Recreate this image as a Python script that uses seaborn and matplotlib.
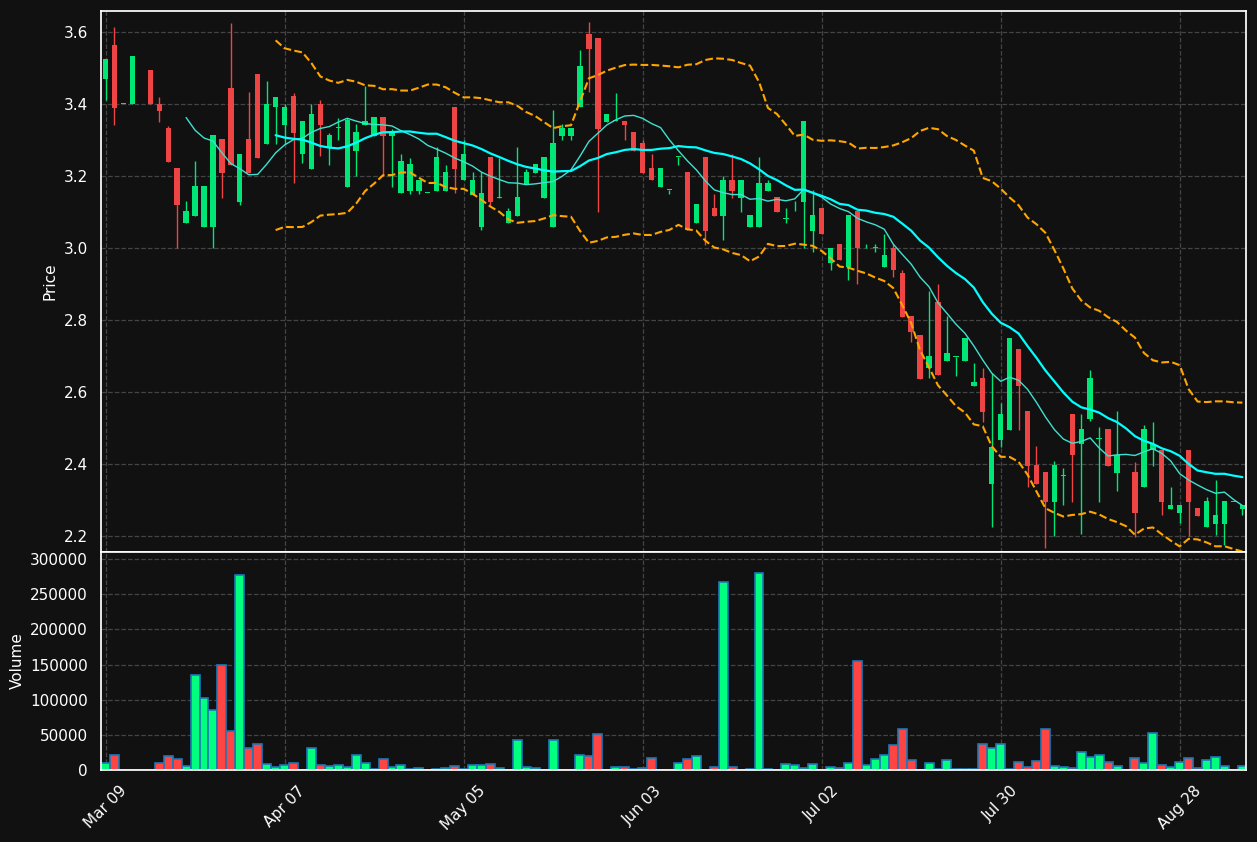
import numpy as np
import pandas as pd
import matplotlib
matplotlib.use("Agg")
import matplotlib.pyplot as plt
import seaborn as sns

tick_labels = ["Mar 09", "Apr 07", "May 05", "Jun 03", "Jul 02", "Jul 30", "Aug 28"]

opens = [3.47,3.564,3.40,3.40,3.532,3.494,3.40,3.334,3.222,3.07,3.09,3.059,3.059,3.303,3.444,3.129,3.303,3.483,3.29,3.39,
 3.34,3.422,3.26,3.22,3.40,3.28,3.333,3.17,3.27,3.34,3.311,3.364,3.311,3.153,3.158,3.158,3.153,3.158,3.158,3.392,
 3.189,3.147,3.058,3.253,3.14,3.07,3.09,3.178,3.208,3.14,3.059,3.312,3.312,3.39,3.594,3.583,3.351,3.353,3.353,3.322,
 3.292,3.222,3.17,3.161,3.253,3.211,3.07,3.253,3.111,3.089,3.19,3.14,3.059,3.059,3.159,3.142,3.081,3.102,3.129,3.048,
 3.111,2.959,3.011,2.948,3.103,2.999,3.0,2.948,3.0,2.931,2.811,2.758,2.667,2.851,2.687,2.698,2.687,2.618,2.639,2.345,
 2.467,2.495,2.719,2.547,2.397,2.378,2.295,2.367,2.539,2.456,2.526,2.47,2.497,2.376,2.358,2.378,2.337,2.439,2.439,2.275,
 2.265,2.439,2.278,2.226,2.234,2.234,2.295,2.275]
highs = [3.525,3.613,3.40,3.533,3.532,3.494,3.42,3.338,3.222,3.13,3.242,3.173,3.314,3.303,3.624,3.261,3.433,3.483,3.464,3.42,
 3.40,3.43,3.353,3.40,3.41,3.32,3.36,3.36,3.344,3.45,3.364,3.364,3.33,3.26,3.25,3.19,3.153,3.28,3.23,3.392,
 3.30,3.21,3.21,3.253,3.25,3.11,3.28,3.22,3.233,3.253,3.383,3.345,3.334,3.55,3.627,3.583,3.372,3.43,3.353,3.322,
 3.30,3.26,3.222,3.161,3.253,3.211,3.122,3.253,3.15,3.20,3.261,3.19,3.092,3.253,3.19,3.142,3.11,3.13,3.353,3.16,
 3.111,3.0,3.011,3.092,3.103,3.01,3.01,3.04,3.01,2.94,2.811,2.758,2.881,2.90,2.81,2.698,2.75,2.68,2.667,2.653,
 2.569,2.75,2.719,2.547,2.45,2.378,2.408,2.389,2.539,2.539,2.66,2.504,2.497,2.547,2.358,2.407,2.508,2.518,2.439,2.337,
 2.286,2.439,2.278,2.31,2.357,2.297,2.295,2.286]
lows = [3.41,3.342,3.40,3.40,3.532,3.40,3.35,3.24,3.0,3.07,3.09,3.059,3.0,3.14,3.231,3.12,3.209,3.251,3.29,3.29,
 3.29,3.18,3.236,3.22,3.254,3.23,3.30,3.17,3.20,3.34,3.311,3.20,3.17,3.153,3.15,3.15,3.153,3.158,3.158,3.153,
 3.189,3.147,3.05,3.12,3.14,3.07,3.09,3.178,3.208,3.14,3.059,3.30,3.30,3.39,3.433,3.10,3.351,3.353,3.30,3.27,
 3.209,3.19,3.17,3.15,3.23,3.05,3.07,3.008,3.089,3.022,3.14,3.10,3.059,3.059,3.159,3.10,3.07,3.102,3.0,2.99,
 3.039,2.94,2.967,2.91,2.90,2.999,2.99,2.948,2.92,2.809,2.74,2.637,2.64,2.647,2.687,2.645,2.687,2.618,2.517,2.226,
 2.448,2.495,2.495,2.337,2.345,2.167,2.20,2.286,2.295,2.206,2.52,2.295,2.395,2.326,2.358,2.198,2.337,2.395,2.258,2.275,
 2.236,2.20,2.256,2.226,2.203,2.175,2.295,2.26]
closes = [3.525,3.389,3.40,3.533,3.532,3.40,3.38,3.24,3.119,3.103,3.173,3.173,3.314,3.209,3.231,3.261,3.209,3.251,3.40,3.42,
 3.392,3.32,3.353,3.372,3.34,3.314,3.333,3.356,3.322,3.353,3.364,3.311,3.322,3.242,3.233,3.19,3.153,3.253,3.211,3.219,
 3.261,3.19,3.153,3.128,3.14,3.103,3.142,3.211,3.233,3.253,3.292,3.334,3.334,3.504,3.551,3.331,3.372,3.353,3.34,3.27,
 3.209,3.19,3.222,3.161,3.253,3.05,3.122,3.048,3.089,3.19,3.158,3.19,3.092,3.181,3.181,3.10,3.081,3.102,3.353,3.092,
 3.039,3.0,2.967,3.092,2.999,2.999,3.0,2.98,2.939,2.809,2.767,2.637,2.70,2.647,2.708,2.698,2.75,2.628,2.545,2.447,
 2.539,2.75,2.617,2.395,2.345,2.295,2.397,2.367,2.426,2.497,2.639,2.47,2.395,2.426,2.358,2.265,2.497,2.456,2.295,2.286,
 2.286,2.295,2.256,2.297,2.258,2.297,2.295,2.286]
volumes = [9500,21000,0,0,0,0,9500,19400,15000,5000,134600,103000,85000,150000,55000,278000,32000,36500,8000,3800,
 6600,9500,0,32000,6600,5000,6600,3800,22000,9500,1000,15000,3800,6600,1000,2400,0,1000,2400,5000,
 1000,6600,6600,8000,2400,0,42000,3800,2400,0,42000,0,0,22000,19400,50700,0,3800,3800,1000,
 2400,16600,0,0,9500,15000,19400,0,3800,267000,3800,0,1000,280000,1000,0,8000,6600,2400,8000,
 0,3800,2400,9500,154500,6600,15000,22000,35000,58000,13700,0,9500,1000,13700,1000,1000,1000,36500,32000,
 36500,1000,11000,3800,12300,58000,5000,3800,2400,25000,18000,22000,11000,5000,0,16600,9500,52000,6600,3800,
 11000,16600,2400,13700,18000,5000,0,5000]

BG = "#111111"
UP, DOWN = "#00e676", "#ef4444"
VUP, VDOWN = "#00ff7f", "#ff4444"

sns.set_theme(style="dark")
plt.rcParams["font.family"] = ["DejaVu Sans"]

n = len(closes)
df = pd.DataFrame({"i": np.arange(n), "o": opens, "h": highs, "l": lows, "c": closes, "v": volumes})
df["up"] = df["c"] >= df["o"]
df["ma10"] = df["c"].rolling(10).mean()
df["ma20"] = df["c"].rolling(20).mean()
sd = df["c"].rolling(20).std(ddof=0)
df["bbu"] = df["ma20"] + 2 * sd
df["bbl"] = df["ma20"] - 2 * sd
df["dir"] = np.where(df["up"], "up", "down")

fig = plt.figure(figsize=(12.57, 8.42), dpi=100, facecolor=BG)
ax = fig.add_axes([0.0804, 0.3444, 0.9108, 0.6426])
axv = fig.add_axes([0.0804, 0.0855, 0.9108, 0.2589])

for a in (ax, axv):
    a.set_facecolor(BG)
    for s in a.spines.values():
        s.set_color("white")
    a.tick_params(colors="white", labelsize=11)
    a.grid(True, color="#444444", linestyle="--", linewidth=0.9)
    a.set_axisbelow(True)

# candles
for _, r in df.iterrows():
    col = UP if r["up"] else DOWN
    ax.vlines(r["i"], r["l"], r["h"], color=col, linewidth=1, zorder=2)
    lo, hi = min(r["o"], r["c"]), max(r["o"], r["c"])
    ax.bar(r["i"], max(hi - lo, 0.002), bottom=lo, width=0.6, color=col, zorder=3, linewidth=0)

sns.lineplot(data=df, x="i", y="ma10", ax=ax, color="#40e0d0", linewidth=1, zorder=4)
sns.lineplot(data=df, x="i", y="ma20", ax=ax, color="#00ffff", linewidth=1.6, zorder=4)
sns.lineplot(data=df, x="i", y="bbu", ax=ax, color="orange", linewidth=1.5, linestyle="--", zorder=4)
sns.lineplot(data=df, x="i", y="bbl", ax=ax, color="orange", linewidth=1.5, linestyle="--", zorder=4)

ax.set_xlim(-0.5, 127.4)
ax.set_ylim(2.156, 3.658)
yt = [2.2, 2.4, 2.6, 2.8, 3.0, 3.2, 3.4, 3.6]
ax.set_yticks(yt)
ax.set_yticklabels([f"{t:.1f}" for t in yt])
ax.set_xticks(np.arange(0, n, 20))
ax.set_xticklabels([])
ax.tick_params(axis="x", length=0)
ax.set_xlabel("")
ax.set_ylabel("Price", color="white", fontsize=11)

sns.barplot(data=df, x="i", y="v", hue="dir", palette={"up": VUP, "down": VDOWN},
            dodge=False, ax=axv, width=1.0, edgecolor="#1f77b4", linewidth=1.2,
            legend=False, native_scale=True, saturation=1)
axv.set_xlim(-0.5, 127.4)
axv.set_ylim(0, 310000)
axv.set_yticks(np.arange(0, 300001, 50000))
axv.set_yticklabels([str(t) for t in range(0, 300001, 50000)])
axv.set_xticks(np.arange(0, n, 20))
axv.set_xticklabels(tick_labels, rotation=45, ha="center")
axv.set_xlabel("")
axv.set_ylabel("Volume", color="white", fontsize=11)

fig.savefig("out.png", dpi=100, facecolor=BG)
